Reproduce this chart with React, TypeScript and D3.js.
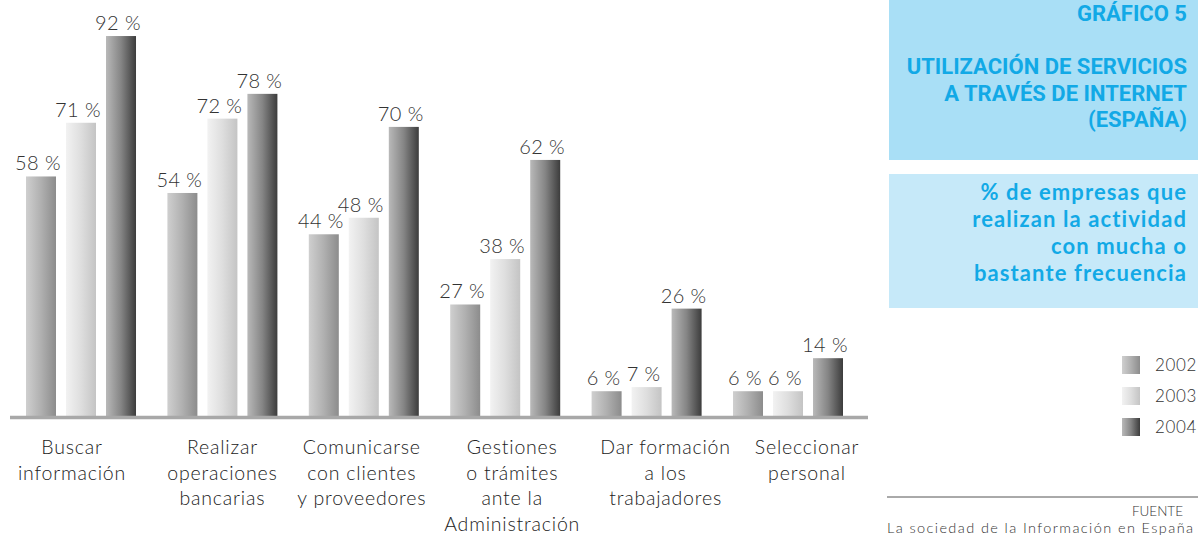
import React from "react";
import * as d3 from "d3";

const categories = [
  ["Buscar", "información"],
  ["Realizar", "operaciones", "bancarias"],
  ["Comunicarse", "con clientes", "y proveedores"],
  ["Gestiones", "o trámites", "ante la", "Administración"],
  ["Dar formación", "a los", "trabajadores"],
  ["Seleccionar", "personal"],
];
const years = ["2002", "2003", "2004"];
const values2002 = [58, 54, 44, 27, 6, 6];
const values2003 = [71, 72, 48, 38, 7, 6];
const values2004 = [92, 78, 70, 62, 26, 14];
const series = [values2002, values2003, values2004];

const titleLines = ["GRÁFICO 5", "", "UTILIZACIÓN DE SERVICIOS", "A TRAVÉS DE INTERNET", "(ESPAÑA)"];
const subtitleLines = ["% de empresas que", "realizan la actividad", "con mucha o", "bastante frecuencia"];

// layout nudges for the category captions (as in the original)
const catShift = [-9, 0, -2, 7, 19, 19];

const W = 1198;
const H = 535;
const base = 416;
const font = "Lato, 'Open Sans', sans-serif";
const cyan = "#12a9e6";

// gradient stops per year: left -> right
const grads = [
  ["#cfcfcf", "#b0b0b0", "#8c8c8c"],
  ["#f2f2f2", "#dedede", "#c4c4c4"],
  ["#b9b9b9", "#858585", "#3c3c3c"],
];

export default function App() {
  const keys = categories.map((_, i) => String(i));
  const x = d3.scaleBand().domain(keys).range([26, 843]).paddingInner(0.222);
  const xi = d3.scaleBand().domain(years).range([0, x.bandwidth()]).paddingInner(0.25);
  const y = d3.scaleLinear().domain([0, 100]).range([base, 3]);

  return (
    <svg
      width={W}
      height={H}
      style={{ position: "absolute", left: 0, top: 0, background: "#fff" }}
    >
      <defs>
        {grads.map((g, i) => (
          <linearGradient key={i} id={`g${i}`} x1="0" x2="1" y1="0" y2="0">
            <stop offset="0" stopColor={g[0]} />
            <stop offset="0.5" stopColor={g[1]} />
            <stop offset="1" stopColor={g[2]} />
          </linearGradient>
        ))}
      </defs>

      {/* bars */}
      {keys.map((k, ci) => (
        <g key={k} transform={`translate(${x(k)},0)`}>
          {years.map((yr, si) => {
            const v = series[si][ci];
            const bx = xi(yr)!;
            return (
              <g key={yr}>
                <rect
                  x={bx}
                  y={y(v)}
                  width={xi.bandwidth()}
                  height={base - y(v)}
                  fill={`url(#g${si})`}
                />
                <text
                  x={bx + xi.bandwidth() / 2 - 3}
                  y={y(v) - 6}
                  textAnchor="middle"
                  fontFamily={font}
                  fontWeight={300}
                  fontSize={20}
                  letterSpacing={0.4}
                  fill="#333"
                >
                  {v} %
                </text>
              </g>
            );
          })}
        </g>
      ))}

      {/* baseline */}
      <line x1={10} x2={868} y1={base + 1.5} y2={base + 1.5} stroke="#a8a8a8" strokeWidth={3.5} />

      {/* category captions */}
      {categories.map((lines, ci) => {
        const cx = x(String(ci))! + x.bandwidth() / 2 + catShift[ci];
        return (
          <text
            key={ci}
            x={cx}
            y={454}
            textAnchor="middle"
            fontFamily={font}
            fontWeight={300}
            fontSize={19.5}
            letterSpacing={0.8}
            fill="#222"
          >
            {lines.map((l, li) => (
              <tspan key={li} x={cx} dy={li === 0 ? 0 : 25.5}>
                {l}
              </tspan>
            ))}
          </text>
        );
      })}

      {/* title boxes */}
      <rect x={889} y={0} width={W - 889} height={160} fill="#a9dff6" />
      {titleLines.map((t, i) => (
        <text
          key={i}
          x={1187}
          y={21 + i * 26.5}
          textAnchor="end"
          fontFamily="'Liberation Sans Narrow', 'Roboto', sans-serif"
          fontWeight="bold"
          fontSize={22}
          fill={cyan}
        >
          {t}
        </text>
      ))}
      <rect x={889} y={174} width={W - 889} height={134} fill="#c6e9f9" />
      {subtitleLines.map((t, i) => (
        <text
          key={i}
          x={1187}
          y={200 + i * 27}
          textAnchor="end"
          fontFamily={font}
          fontWeight="bold"
          fontSize={22}
          letterSpacing={1.1}
          fill={cyan}
        >
          {t}
        </text>
      ))}

      {/* legend */}
      {years.map((yr, i) => (
        <g key={yr} transform={`translate(1122,${356 + i * 31})`}>
          <rect width={18} height={18} fill={`url(#g${i})`} />
          <text x={33} y={15} fontFamily={font} fontWeight={300} fontSize={17} letterSpacing={0.6} fill="#333">
            {yr}
          </text>
        </g>
      ))}

      {/* source */}
      <line x1={887} x2={W} y1={497} y2={497} stroke="#555" strokeWidth={1} />
      <text x={1183} y={516} textAnchor="end" fontFamily={font} fontWeight={300} fontSize={13.5} fill="#333">
        FUENTE
      </text>
      <text x={887} y={533} fontFamily={font} fontWeight={300} fontSize={14.5} letterSpacing={1.4} fill="#333">
        La sociedad de la Información en España
      </text>
    </svg>
  );
}
